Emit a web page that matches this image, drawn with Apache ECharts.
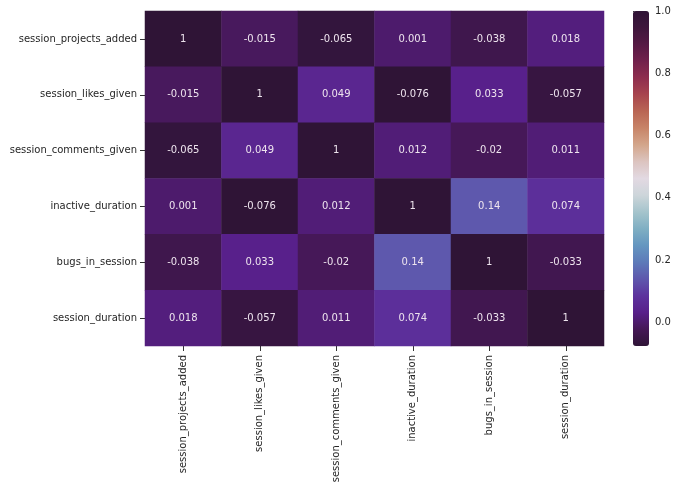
<!DOCTYPE html>
<html>
<head>
<meta charset="utf-8">
<script src="https://cdn.jsdelivr.net/npm/echarts@6/dist/echarts.min.js"></script>
<style>html,body{margin:0;padding:0;background:#fff}#c{width:680px;height:491px}</style>
</head>
<body>
<div id="c"></div>
<script>
const categories = ['session_projects_added','session_likes_given','session_comments_given','inactive_duration','bugs_in_session','session_duration'];
const row0 = [1, -0.015, -0.065, 0.001, -0.038, 0.018];
const row1 = [-0.015, 1, 0.049, -0.076, 0.033, -0.057];
const row2 = [-0.065, 0.049, 1, 0.012, -0.02, 0.011];
const row3 = [0.001, -0.076, 0.012, 1, 0.14, 0.074];
const row4 = [-0.038, 0.033, -0.02, 0.14, 1, -0.033];
const row5 = [0.018, -0.057, 0.011, 0.074, -0.033, 1];
const colorbarTicks = [0, 0.2, 0.4, 0.6, 0.8, 1.0];
const vmin = -0.076, vmax = 1;

// approximate twilight_shifted colormap (evenly spaced stops)
const cmap = ['#2f1436','#451856','#58208a','#5d339e','#5e57ad','#5d7ab9','#6496c0','#7fafc3','#a5c4cc','#cdd5da','#e2d9e2','#dcc4c0','#d3a68b','#c88468','#b96654','#a8454e','#8f2e4e','#72214c','#561a45','#3e163c','#2f1436'];

const rows = [row0,row1,row2,row3,row4,row5];
const data = [];
rows.forEach((r, yi) => r.forEach((v, xi) => data.push([xi, yi, v])));

const chart = echarts.init(document.getElementById('c'));
const font = 'DejaVu Sans';
chart.setOption({
  backgroundColor: '#fff',
  animation: false,
  grid: [
    {left: 145, top: 11, width: 459, height: 335},
    {left: 633, top: 11, width: 16, height: 335}
  ],
  xAxis: [
    {type: 'category', data: categories, gridIndex: 0,
     axisLine: {show: false}, splitLine: {show: false},
     axisTick: {show: true, alignWithLabel: true, length: 5, lineStyle: {color: '#333'}},
     axisLabel: {rotate: 90, color: '#262626', fontFamily: font, fontSize: 10, margin: 9}},
    {type: 'value', gridIndex: 1, show: false, min: 0, max: 1}
  ],
  yAxis: [
    {type: 'category', data: categories, gridIndex: 0, inverse: true,
     axisLine: {show: false}, splitLine: {show: false},
     axisTick: {show: true, alignWithLabel: true, length: 5, lineStyle: {color: '#333'}},
     axisLabel: {color: '#262626', fontFamily: font, fontSize: 10, margin: 8}},
    {type: 'value', gridIndex: 1, position: 'right', min: vmin, max: vmax,
     axisLine: {show: false}, splitLine: {show: false},
     axisTick: {show: true, length: 4, lineStyle: {color: '#333'}, customValues: colorbarTicks},
     axisLabel: {color: '#262626', fontFamily: font, fontSize: 10, margin: 6,
       customValues: colorbarTicks, formatter: v => v.toFixed(1)}}
  ],
  visualMap: {
    type: 'continuous', min: vmin, max: vmax, seriesIndex: 0,
    orient: 'vertical', left: 633, top: 11, itemWidth: 16, itemHeight: 335,
    padding: 0, calculable: false, text: null, showLabel: false,
    inRange: {color: cmap}, textStyle: {color: 'transparent'}
  },
  series: [
    {type: 'heatmap', xAxisIndex: 0, yAxisIndex: 0, data: data,
     label: {show: true, color: '#eee4ee', fontFamily: font, fontSize: 10,
       formatter: p => String(p.value[2])},
     itemStyle: {borderWidth: 0}},
    {type: 'scatter', xAxisIndex: 1, yAxisIndex: 1, data: [], silent: true}
  ]
});
</script>
</body>
</html>
